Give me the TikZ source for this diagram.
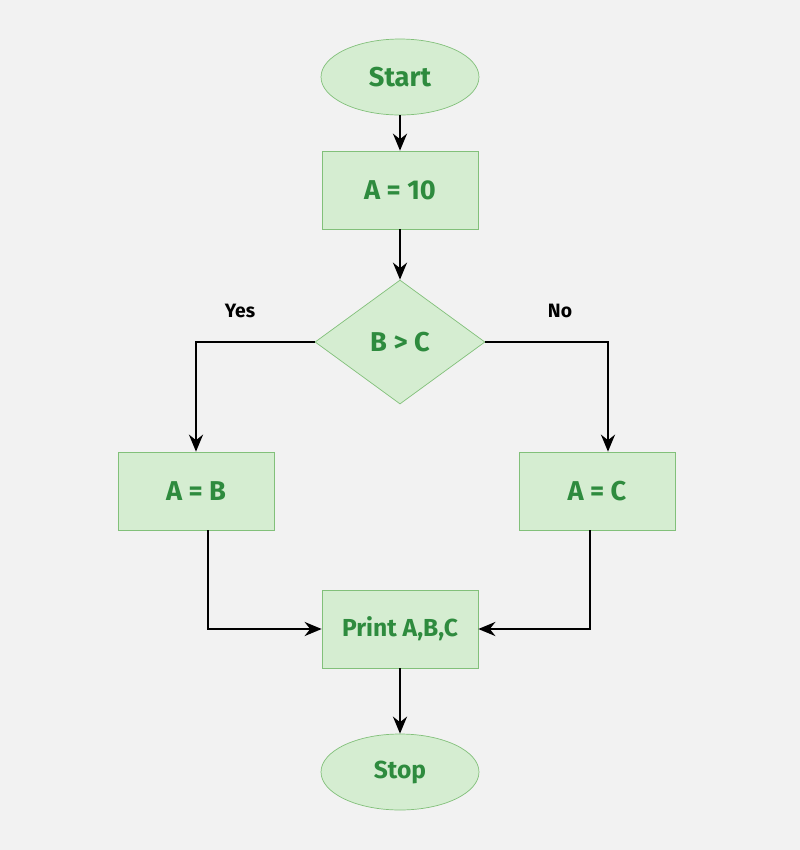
\documentclass[tikz,border=0pt]{standalone}
\usepackage{fontspec}
\setmainfont{Fira Sans}
\usetikzlibrary{shapes.geometric,arrows.meta,positioning}
\definecolor{boxfill}{HTML}{D5EDD1}
\definecolor{boxline}{HTML}{82C07A}
\definecolor{boxtext}{HTML}{2E8B3E}
\tikzset{every picture/.style={font issue=\fontsize{13}{15}},
         font issue/.style={execute at begin picture={#1\selectfont}}
        }
\tikzstyle{term}=[draw=boxline,fill=boxfill,text=boxtext,ellipse,minimum width=3.16cm,minimum height=1.52cm,font=\fontsize{15.5}{18}\selectfont\bfseries]
\tikzstyle{proc}=[draw=boxline,fill=boxfill,text=boxtext,rectangle,minimum width=3.12cm,minimum height=1.56cm,font=\fontsize{15.5}{18}\selectfont\bfseries]
\tikzstyle{dec}=[draw=boxline,fill=boxfill,text=boxtext,diamond,aspect=1.37,minimum width=3.4cm,minimum height=2.48cm,inner sep=0,font=\fontsize{15.5}{18}\selectfont\bfseries]
\tikzstyle{flow}=[draw,black,line width=1.5pt,-{Stealth[length=3.4mm,width=2.8mm]}]
\tikzstyle{lbl}=[font=\fontsize{11}{13}\selectfont\bfseries]
\begin{document}
\begin{tikzpicture}[x=0.02cm,y=-0.02cm]
	\fill[black!5] (0,0) rectangle (800,850);
	\useasboundingbox (0,0) rectangle (800,850);

	\node[term] (start) at (400,77) {Start};
	\node[proc] (seta) at (400,190) {A = 10};
	\node[dec] (cmp) at (400,342) {B > C};
	\node[proc] (ab) at (196,491) {A = B};
	\node[proc] (ac) at (597,491) {A = C};
	\node[proc] (print) at (400,629) {\fontsize{14}{16}\selectfont Print A,B,C};
	\node[term] (stop) at (400,772) {\fontsize{14}{16}\selectfont Stop};

	\node[lbl] (yes) at (240,311) {Yes};
	\node[lbl] (no) at (560,311) {No};

	\path[flow] (start) -- (seta);
	\path[flow] (seta) -- (cmp);
	\path[flow] (cmp.west) -| (ab.north);
	\path[flow] (cmp.east) -| ([xshift=0.22cm]ac.north);
	\path[flow] ([xshift=0.24cm]ab.south) |- (print.west);
	\path[flow] ([xshift=-0.14cm]ac.south) |- (print.east);
	\path[flow] (print) -- (stop);
\end{tikzpicture}
\end{document}
